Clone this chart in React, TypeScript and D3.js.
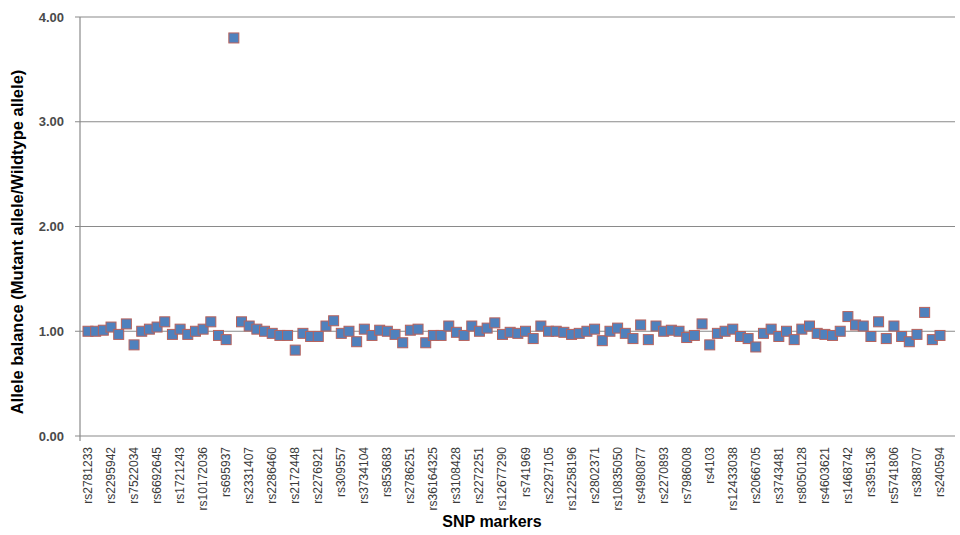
import React from "react";
import * as d3 from "d3";

const snpLabels: string[] = [
  "rs2781233", "rs2295942", "rs7522034", "rs6692645", "rs1721243", "rs10172036",
  "rs695937", "rs2331407", "rs2286460", "rs2172448", "rs2276921", "rs309557",
  "rs3734104", "rs853683", "rs2786251", "rs36164325", "rs3108428", "rs2272251",
  "rs12677290", "rs741969", "rs2297105", "rs12258196", "rs2802371", "rs10835050",
  "rs4980877", "rs2270893", "rs7986008", "rs4103", "rs12433038", "rs2066705",
  "rs3743481", "rs8050128", "rs4603621", "rs1468742", "rs395136", "rs5741806",
  "rs388707", "rs240594",
];

const alleleBalance: number[] = [
  1.0, 1.0, 1.01, 1.04, 0.97, 1.07, 0.87, 1.0, 1.02, 1.04,
  1.09, 0.97, 1.02, 0.97, 1.0, 1.02, 1.09, 0.96, 0.92, 3.8,
  1.09, 1.05, 1.02, 1.0, 0.98, 0.96, 0.96, 0.82, 0.98, 0.95,
  0.95, 1.05, 1.1, 0.98, 1.0, 0.9, 1.02, 0.96, 1.01, 1.0,
  0.97, 0.89, 1.01, 1.02, 0.89, 0.96, 0.96, 1.05, 0.99, 0.96,
  1.05, 1.0, 1.03, 1.08, 0.97, 0.99, 0.98, 1.0, 0.93, 1.05,
  1.0, 1.0, 0.99, 0.97, 0.98, 1.0, 1.02, 0.91, 1.0, 1.03,
  0.98, 0.93, 1.06, 0.92, 1.05, 1.0, 1.01, 1.0, 0.94, 0.96,
  1.07, 0.87, 0.98, 1.0, 1.02, 0.95, 0.93, 0.85, 0.98, 1.02,
  0.95, 1.0, 0.92, 1.02, 1.05, 0.98, 0.97, 0.96, 1.0, 1.14,
  1.06, 1.05, 0.95, 1.09, 0.93, 1.05, 0.95, 0.9, 0.97, 1.18,
  0.92, 0.96,
];

const yTicks: number[] = [0, 1, 2, 3, 4];

const yTitle = "Allele balance (Mutant allele/Wildtype allele)";
const xTitle = "SNP markers";

export default function App() {
  const W = 960;
  const H = 535;
  const plotLeft = 80;
  const plotRight = 955;
  const plotTop = 17;
  const plotBottom = 436;

  const idx = alleleBalance.map((_, i) => i);
  const x = d3.scalePoint<number>().domain(idx).range([88, 940]);
  const y = d3.scaleLinear().domain([0, 4]).range([plotBottom, plotTop]);
  const fmt = d3.format(".2f");
  const ms = 10;

  return (
    <svg
      width={W}
      height={H}
      style={{ position: "absolute", left: 0, top: 0, background: "#fff" }}
      fontFamily="'Liberation Sans', Arial, sans-serif"
    >
      <rect x={0} y={0} width={W} height={H} fill="#fff" />
      {yTicks.map((t) => (
        <g key={t}>
          <line x1={plotLeft - 5} x2={plotRight} y1={y(t)} y2={y(t)} stroke="#8a8a8a" strokeWidth={1.2} />
          <text
            x={64}
            y={y(t)}
            textAnchor="end"
            dominantBaseline="central"
            fontSize={13}
            fontWeight="bold"
            fill="#4a4a4a"
          >
            {fmt(t)}
          </text>
        </g>
      ))}
      <line x1={plotLeft} x2={plotLeft} y1={plotTop} y2={plotBottom + 5} stroke="#8a8a8a" strokeWidth={1.2} />
      {snpLabels.map((lab, k) => {
        const xi = x(k * 3) as number;
        return (
          <text
            key={lab + k}
            transform={`translate(${xi},447) rotate(-90)`}
            textAnchor="end"
            dominantBaseline="central"
            fontSize={12}
            fill="#3a3a3a"
          >
            {lab}
          </text>
        );
      })}
      {alleleBalance.map((v, i) => (
        <rect
          key={i}
          x={(x(i) as number) - ms / 2}
          y={y(v) - ms / 2}
          width={ms}
          height={ms}
          fill="#4F81BD"
          stroke="#B8625C"
          strokeWidth={1}
        />
      ))}
      <text
        transform={`translate(23,242) rotate(-90)`}
        textAnchor="middle"
        fontSize={16.5}
        fontWeight="bold"
        fill="#000"
      >
        {yTitle}
      </text>
      <text x={492} y={527} textAnchor="middle" fontSize={16} fontWeight="bold" fill="#000">
        {xTitle}
      </text>
    </svg>
  );
}
